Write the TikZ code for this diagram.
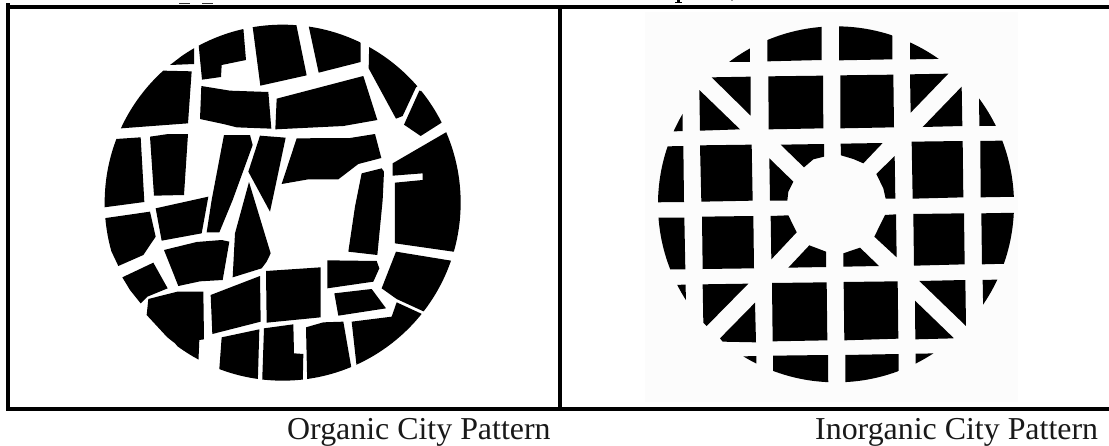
\documentclass[tikz,border=0pt]{standalone}
\usepackage{fontspec}
\setmainfont{Liberation Serif}
\tikzset{
  frameline/.style={line width=3.2pt,black,line cap=butt},
  caption/.style={anchor=base west,inner sep=0pt,font=\fontsize{31.9}{34}\selectfont,text=black!90},
  block/.style={fill=black,draw=none},
  zoomed/.style={x=0.33333pt,y=-0.33333pt}
}
\begin{document}
\begin{tikzpicture}[x=1pt,y=-1pt]
\useasboundingbox (0,0) rectangle (1109,445);
\fill[white] (0,0) rectangle (1109,445);
\fill[black!1] (645,12) rectangle (1018,402);
% cut-off remains of the line above the frame
\fill[black!80] (178.5,2.6) rectangle (190,3.6);
\fill[black!80] (202,2.6) rectangle (213,3.6);
\fill[black] (675,1.8) rectangle (682,2.8);
\fill[black] (677,0) rectangle (680,2);
\fill[black!40] (731,0) rectangle (732.5,1);
% frame
\draw[frameline] (6.5,7) -- (1109,7);
\draw[frameline] (6.5,409) -- (1109,409);
\draw[frameline] (8,3) -- (8,410.5);
\draw[frameline] (560,5) -- (560,411);
% organic pattern
\begin{scope}[shift={(90,0)},zoomed]
\clip (578,608) circle[radius=534];
\fill[block] (240,195)--(312,140)--(312,192)--cycle;
\fill[block] (325,125)--(458,60)--(468,180)--(395,195)--(393,231)--(336,239)--cycle;
\fill[block] (484,50)--(614,50)--(650,226)--(511,257)--cycle;
\fill[block] (650,50)--(812,100)--(812,186)--(686,218)--cycle;
\fill[block] (838,120)--(1020,230)--(978,262)--(938,348)--(918,356)--(836,205)--cycle;
\fill[block] (988,272)--(1040,280)--(1080,352)--(992,408)--(942,374)--cycle;
\fill[block] (220,212)--(305,214)--(294,370)--(80,386)--(120,250)--cycle;
\fill[block] (334,258)--(420,272)--(535,276)--(544,386)--(440,382)--(400,372)--(330,357)--cycle;
\fill[block] (560,296)--(820,228)--(862,360)--(760,378)--(556,388)--cycle;
\fill[block] (1068,397)--(1160,350)--(1160,760)--(1090,755)--(915,730)--(915,548)--(998,540)--(998,520)--(908,527)--(908,490)--cycle;
\fill[block] (78,417)--(152,412)--(163,606)--(20,625)--(20,420)--cycle;
\fill[block] (180,410)--(235,402)--(294,402)--(282,585)--(192,587)--cycle;
\fill[block] (402,405)--(480,405)--(488,435)--(428,600)--(388,697)--(350,697)--(365,600)--cycle;
\fill[block] (510,407)--(587,413)--(556,560)--(540,635)--(475,515)--cycle;
\fill[block] (477,546)--(542,760)--(530,785)--(515,805)--(428,832)--(435,700)--cycle;
\fill[block] (620,415)--(780,414)--(855,402)--(874,474)--(805,492)--(745,538)--(655,538)--(575,552)--cycle;
\fill[block] (815,520)--(875,505)--(882,515)--(878,600)--(862,765)--(775,755)--(795,620)--cycle;
\fill[block] (197,625)--(355,590)--(335,700)--(215,722)--cycle;
\fill[block] (20,658)--(180,635)--(197,710)--(160,765)--(85,798)--(60,745)--cycle;
\fill[block] (222,750)--(320,726)--(395,720)--(418,725)--(398,840)--(330,844)--(265,858)--cycle;
\fill[block] (97,832)--(190,788)--(233,865)--(172,890)--(152,910)--(120,870)--cycle;
\fill[block] (175,897)--(262,875)--(340,875)--(342,1018)--(328,1020)--(325,1090)--(280,1060)--(255,1030)--(232,1012)--(170,945)--cycle;
\fill[block] (362,885)--(510,828)--(512,965)--(367,1002)--cycle;
\fill[block] (528,813)--(692,802)--(692,952)--(530,968)--cycle;
\fill[block] (712,781)--(860,783)--(868,805)--(850,845)--(712,865)--cycle;
\fill[block] (733,880)--(845,867)--(888,925)--(745,947)--cycle;
\fill[block] (918,755)--(1120,788)--(1120,989)--(920,897)--(875,865)--cycle;
\fill[block] (785,965)--(905,950)--(920,907)--(1100,990)--(1050,1100)--(800,1100)--cycle;
\fill[block] (395,1012)--(508,988)--(503,1160)--(384,1160)--(388,1107)--cycle;
\fill[block] (522,985)--(610,973)--(612,1060)--(640,1062)--(638,1160)--(516,1160)--cycle;
\fill[block] (648,982)--(700,967)--(760,965)--(787,1120)--(652,1160)--cycle;
\end{scope}
% inorganic pattern
\begin{scope}[shift={(640,0)},zoomed]
\clip (588,613) circle[radius=534];
\fill[block] (200,186)--(330,186)--(330,100)--(200,100)--cycle;
\fill[block] (382,184)--(545,180)--(545,50)--(382,50)--cycle;
\fill[block] (597,181)--(757,178)--(757,50)--(597,50)--cycle;
\fill[block] (810,178)--(950,176)--(950,50)--(810,50)--cycle;
\fill[block] (215,232)--(332,230)--(332,347)--cycle;
\fill[block] (178,270)--(300,388)--(180,392)--cycle;
\fill[block] (385,229)--(549,227)--(550,385)--(386,388)--cycle;
\fill[block] (601,226)--(760,224)--(762,382)--(601,385)--cycle;
\fill[block] (810,223)--(925,221)--(812,338)--cycle;
\fill[block] (965,260)--(967,378)--(848,381)--cycle;
\fill[block] (60,396)--(128,393)--(128,300)--(60,300)--cycle;
\fill[block] (1017,250)--(1100,250)--(1100,377)--(1018,378)--cycle;
\fill[block] (40,440)--(130,438)--(132,606)--(40,607)--cycle;
\fill[block] (180,436)--(335,434)--(338,602)--(184,605)--cycle;
\fill[block] (388,475)--(460,545)--(445,575)--(442,602)--(390,602)--cycle;
\fill[block] (422,434)--(552,432)--(552,470)--(520,478)--(492,502)--cycle;
\fill[block] (602,431)--(728,429)--(670,490)--(640,477)--(603,466)--cycle;
\fill[block] (764,468)--(766,596)--(737,596)--(730,565)--(709,522)--cycle;
\fill[block] (815,425)--(968,423)--(970,592)--(818,596)--cycle;
\fill[block] (1021,423)--(1140,421)--(1140,590)--(1022,592)--cycle;
\fill[block] (40,653)--(133,653)--(136,808)--(40,808)--cycle;
\fill[block] (186,650)--(340,648)--(342,805)--(188,807)--cycle;
\fill[block] (392,648)--(445,646)--(470,697)--(394,778)--cycle;
\fill[block] (508,736)--(558,755)--(558,801)--(445,803)--cycle;
\fill[block] (610,760)--(660,743)--(717,798)--(610,800)--cycle;
\fill[block] (768,643)--(770,772)--(703,710)--(735,645)--cycle;
\fill[block] (820,642)--(972,640)--(974,793)--(822,797)--cycle;
\fill[block] (1024,640)--(1140,638)--(1140,790)--(1026,793)--cycle;
\fill[block] (80,855)--(137,854)--(138,950)--(80,950)--cycle;
\fill[block] (188,853)--(325,851)--(200,978)--(190,968)--cycle;
\fill[block] (345,908)--(348,1027)--(248,1025)--(240,1015)--cycle;
\fill[block] (396,849)--(560,847)--(562,1021)--(398,1024)--cycle;
\fill[block] (611,846)--(773,844)--(775,1016)--(613,1021)--cycle;
\fill[block] (825,902)--(942,1015)--(826,1018)--cycle;
\fill[block] (838,843)--(976,840)--(978,978)--cycle;
\fill[block] (1028,840)--(1100,838)--(1100,950)--(1030,950)--cycle;
\fill[block] (280,1070)--(349,1068)--(349,1120)--(280,1120)--cycle;
\fill[block] (399,1067)--(564,1065)--(565,1170)--(399,1170)--cycle;
\fill[block] (616,1065)--(776,1062)--(776,1170)--(616,1170)--cycle;
\fill[block] (827,1061)--(900,1060)--(900,1120)--(827,1120)--cycle;
\end{scope}
% captions
\node[caption] (org) at (287,439) {Organic City Pattern};
\node[caption] (inorg) at (815,439) {Inorganic City Pattern};
\end{tikzpicture}
\end{document}
